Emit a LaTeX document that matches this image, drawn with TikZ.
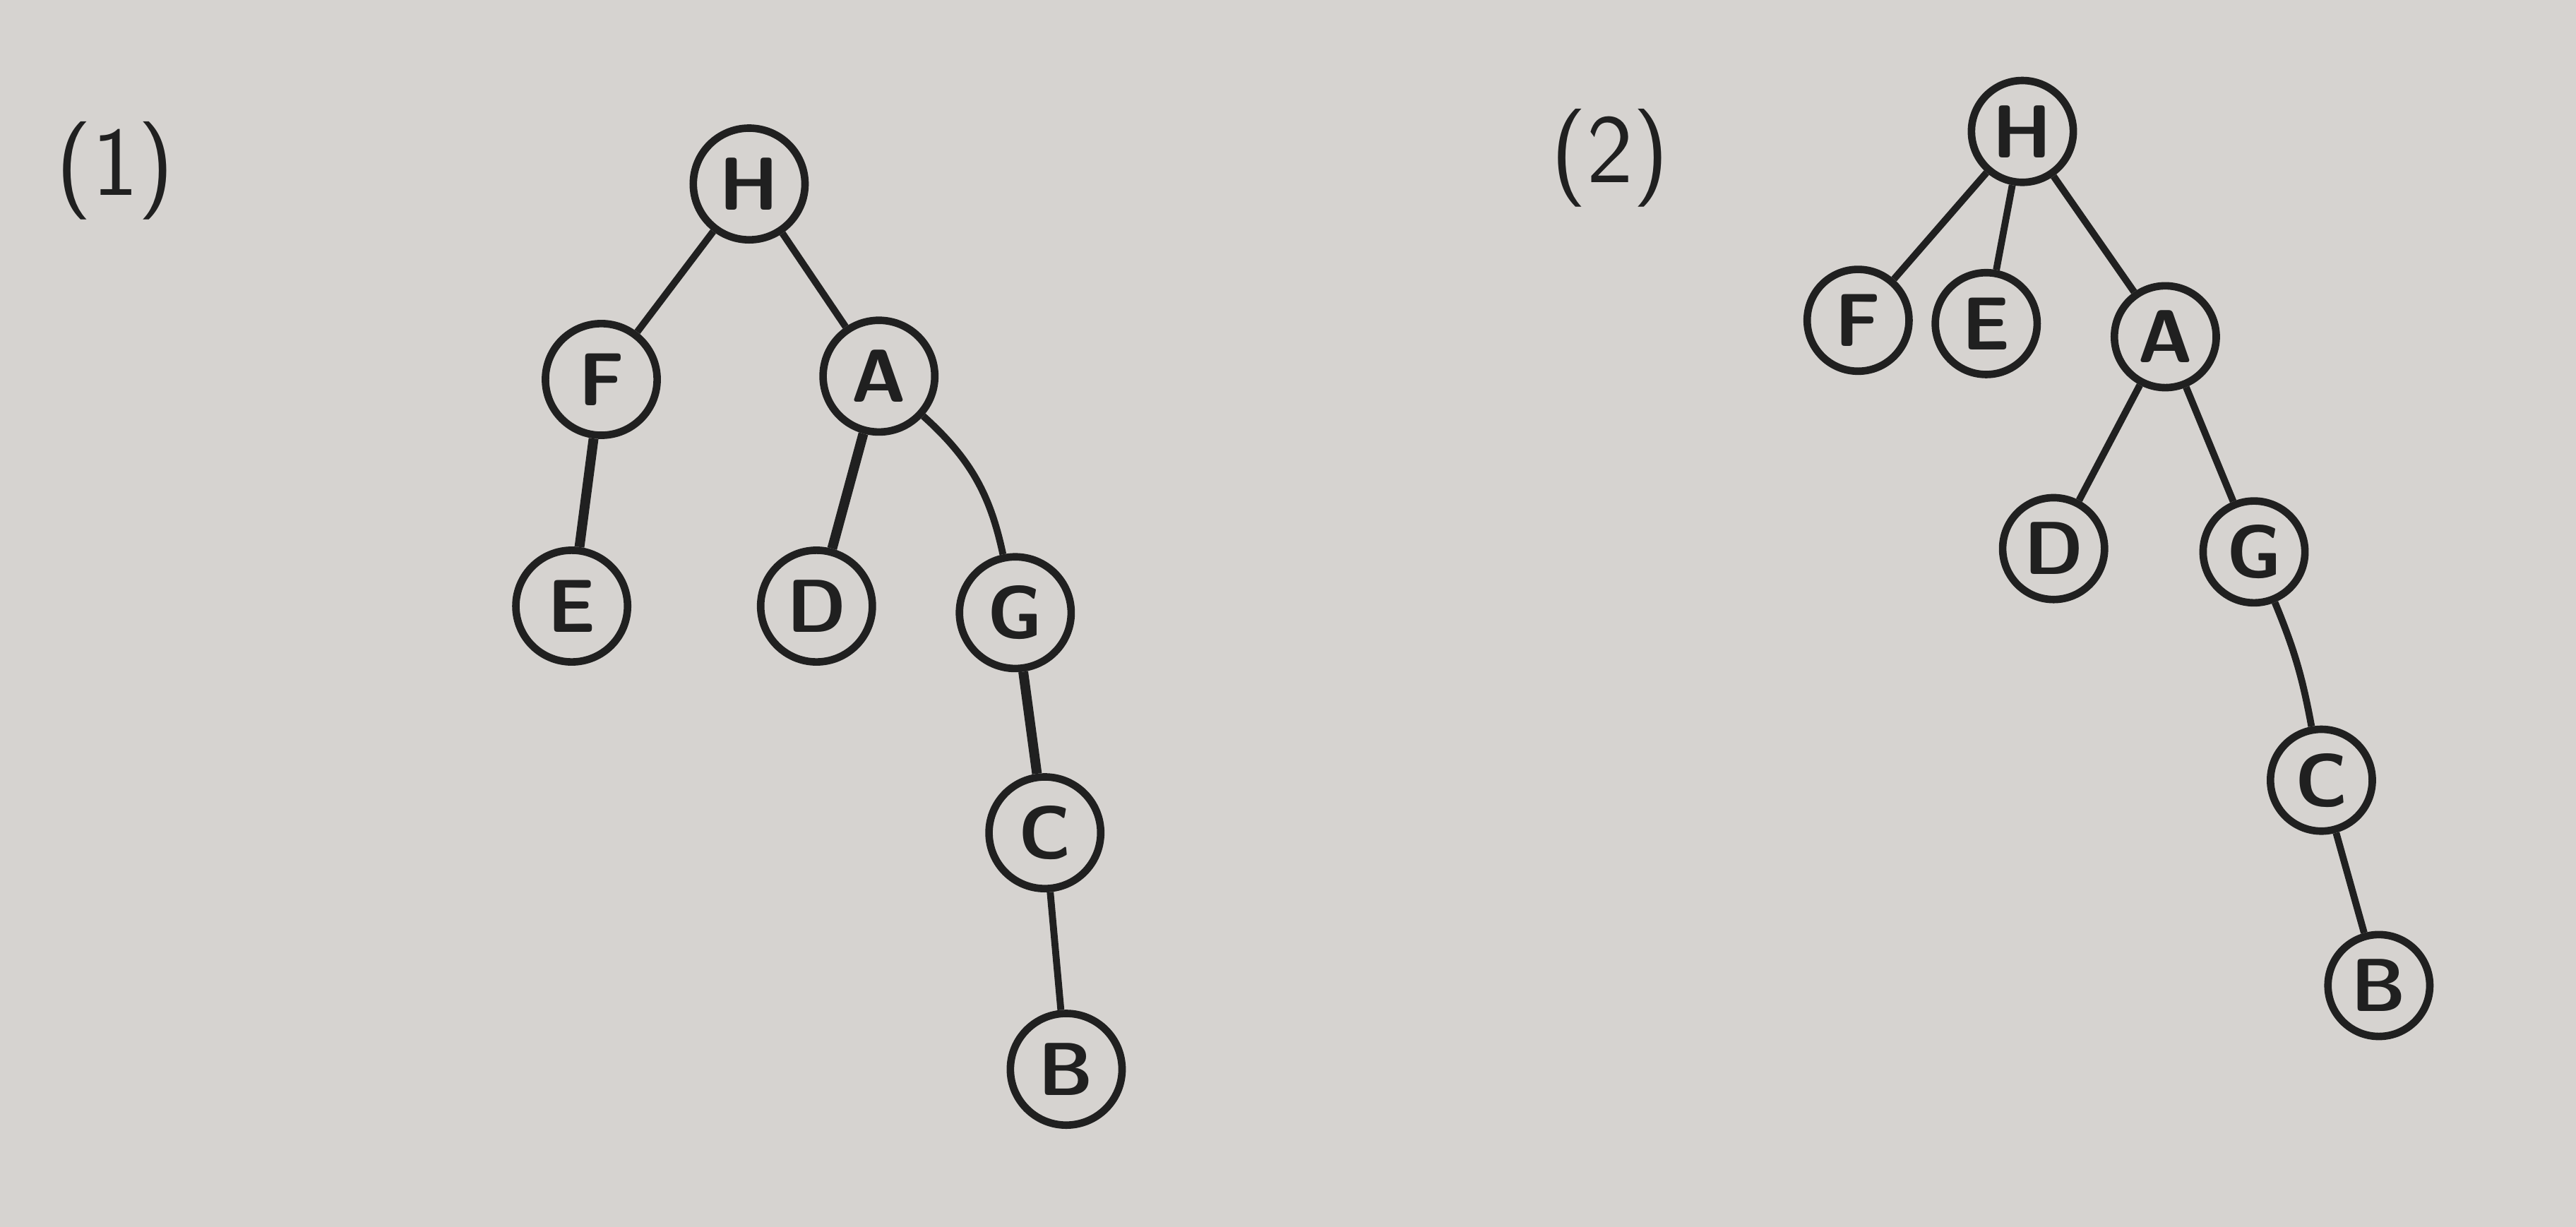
\documentclass[tikz,border=0pt]{standalone}
\usepackage{tikz}
\usetikzlibrary{positioning}
\definecolor{paper}{RGB}{214,211,208}
\definecolor{ink}{RGB}{32,32,32}

\begin{document}
\begin{tikzpicture}[
    vtx/.style={circle, draw=ink, line width=1.3pt, minimum size=0.68cm, inner sep=0pt,
      text=ink, font=\sffamily\bfseries\fontsize{13}{15}\selectfont},
    vtxs/.style={vtx, minimum size=0.62cm},
    link/.style={draw=ink, line width=1.2pt},
    heavy/.style={link, line width=1.7pt},
    tag/.style={text=ink, font=\sffamily\fontsize{17}{19}\selectfont}]
    \fill[paper] (0,0) rectangle (15.68,-7.47);
    \useasboundingbox (0,0) rectangle (15.68,-7.47);
    % first tree
    \node[tag] (t1) at (0.70,-1.04) {(1)};
    \node[vtx] (h1) at (4.56,-1.12) {H};
    \node[vtx] (f1) at (3.66,-2.31) {F};
    \node[vtx] (a1) at (5.35,-2.29) {A};
    \node[vtx] (e1) at (3.48,-3.69) {E};
    \node[vtx] (d1) at (4.97,-3.69) {D};
    \node[vtx] (g1) at (6.18,-3.73) {G};
    \node[vtx] (c1) at (6.36,-5.07) {C};
    \node[vtx] (b1) at (6.49,-6.51) {B};
    \draw[link] (h1) -- (f1);
    \draw[link] (h1) -- (a1);
    \draw[heavy] (f1) -- (e1);
    \draw[heavy] (a1) -- (d1);
    \draw[link] (a1) to[bend left=18] (g1);
    \draw[heavy] (g1) -- (c1);
    \draw[link] (c1) -- (b1);
    % second tree
    \node[tag] (t2) at (9.80,-0.96) {(2)};
    \node[vtxs] (h2) at (12.31,-0.80) {H};
    \node[vtxs] (f2) at (11.31,-1.95) {F};
    \node[vtxs] (e2) at (12.09,-1.97) {E};
    \node[vtxs] (a2) at (13.18,-2.05) {A};
    \node[vtxs] (d2) at (12.50,-3.34) {D};
    \node[vtxs] (g2) at (13.72,-3.36) {G};
    \node[vtxs] (c2) at (14.13,-4.75) {C};
    \node[vtxs] (b2) at (14.48,-6.00) {B};
    \draw[link] (h2) -- (f2);
    \draw[link] (h2) -- (e2);
    \draw[link] (h2) -- (a2);
    \draw[link] (a2) -- (d2);
    \draw[link] (a2) -- (g2);
    \draw[link] (g2) to[bend left=6] (c2);
    \draw[link] (c2) -- (b2);
\end{tikzpicture}
\end{document}
